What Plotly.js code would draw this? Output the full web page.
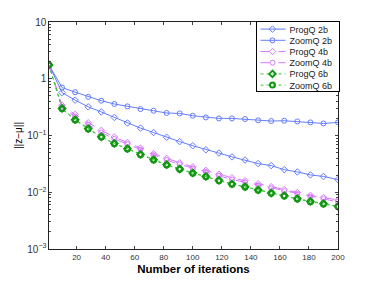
<!DOCTYPE html>
<html>
<head>
<meta charset="utf-8">
<script src="https://cdn.plot.ly/plotly-3.0.1.min.js"></script>
<style>html,body{margin:0;padding:0;background:#fff;}#chart{width:374px;height:281px;}</style>
</head>
<body>
<div id="chart"></div>
<script>
const iterations = [1, 10, 19, 28, 37, 46, 55, 64, 73, 82, 91, 100, 109, 118, 127, 136, 145, 154, 163, 172, 181, 190, 200];
const progQ2b = [1.75, 0.57, 0.42, 0.32, 0.26, 0.208, 0.166, 0.135, 0.113, 0.093, 0.078, 0.066, 0.056, 0.049, 0.042, 0.037, 0.032, 0.0295, 0.0250, 0.0228, 0.0202, 0.0190, 0.0167];
const zoomQ2b = [1.75, 0.70, 0.58, 0.48, 0.41, 0.359, 0.326, 0.292, 0.273, 0.249, 0.245, 0.223, 0.208, 0.200, 0.200, 0.195, 0.185, 0.180, 0.182, 0.177, 0.170, 0.163, 0.170];
const progQ4b = [1.75, 0.34, 0.235, 0.168, 0.123, 0.094, 0.075, 0.060, 0.048, 0.0395, 0.033, 0.028, 0.0243, 0.0208, 0.0180, 0.0160, 0.0141, 0.0125, 0.0111, 0.0099, 0.0088, 0.0081, 0.0073];
const zoomQ4b = [1.75, 0.32, 0.215, 0.155, 0.113, 0.087, 0.070, 0.056, 0.045, 0.037, 0.031, 0.0263, 0.0228, 0.0195, 0.0168, 0.0150, 0.0132, 0.0117, 0.0104, 0.0093, 0.0083, 0.0076, 0.0068];
const progQ6b = [1.75, 0.30, 0.19, 0.132, 0.095, 0.0726, 0.0586, 0.0465, 0.0375, 0.0306, 0.0257, 0.0219, 0.0190, 0.0162, 0.0140, 0.0125, 0.0110, 0.0097, 0.0087, 0.0077, 0.0069, 0.0063, 0.00565];
const zoomQ6b = [1.75, 0.295, 0.187, 0.130, 0.094, 0.0718, 0.0580, 0.0460, 0.0371, 0.0303, 0.0254, 0.0217, 0.0188, 0.0160, 0.0139, 0.0124, 0.0109, 0.0096, 0.0086, 0.0076, 0.0068, 0.0062, 0.0056];
const xTicks = [20, 40, 60, 80, 100, 120, 140, 160, 180, 200];
const seriesNames = ['ProgQ 2b', 'ZoomQ 2b', 'ProgQ 4b', 'ZoomQ 4b', 'ProgQ 6b', 'ZoomQ 6b'];

const blue = 'rgb(100,125,255)';
const violet = 'rgb(215,120,255)';
const greenLine = 'rgb(60,200,60)';
const greenMark = 'rgb(20,150,20)';

function tr(y, name, color, dash, symbol, mcolor, mw) {
  return {
    x: iterations, y: y, name: name, type: 'scatter', mode: 'lines+markers',
    line: {color: color, width: 1, dash: dash},
    marker: {symbol: symbol, size: 5, color: mcolor, line: {color: mcolor, width: mw}}
  };
}

const data = [
  tr(progQ2b, seriesNames[0], blue, 'solid', 'diamond-open', blue, 1),
  tr(zoomQ2b, seriesNames[1], blue, 'solid', 'circle-open', blue, 1),
  tr(progQ4b, seriesNames[2], violet, 'dash', 'diamond-open', violet, 1),
  tr(zoomQ4b, seriesNames[3], violet, 'dash', 'circle-open', violet, 1),
  tr(progQ6b, seriesNames[4], greenLine, 'dot', 'diamond-open', greenMark, 2),
  tr(zoomQ6b, seriesNames[5], greenLine, 'dot', 'circle-open', greenMark, 2)
];

const layout = {
  width: 374, height: 281,
  margin: {l: 49, r: 36, t: 22, b: 32},
  paper_bgcolor: '#fff', plot_bgcolor: '#fff',
  font: {family: 'Liberation Sans, Arial, sans-serif', size: 8, color: '#333'},
  showlegend: true,
  legend: {
    x: 1, xanchor: 'right', y: 1, yanchor: 'top',
    bgcolor: '#fff', bordercolor: '#000', borderwidth: 1,
    font: {size: 9, color: '#222'}, tracegroupgap: 0
  },
  xaxis: {
    range: [1, 200], tickvals: xTicks, ticks: 'inside', ticklen: 3,
    showgrid: false, zeroline: false, showline: true, linecolor: '#222', linewidth: 1,
    mirror: 'ticks', tickfont: {size: 8, color: '#333'},
    title: {text: '<b>Number of iterations</b>', font: {size: 11.5, color: '#000'}, standoff: 4}
  },
  yaxis: {
    type: 'log', range: [-3, 1], dtick: 1, exponentformat: 'power',
    ticks: 'inside', ticklen: 3, showgrid: false, zeroline: false,
    showline: true, linecolor: '#222', linewidth: 1, mirror: 'ticks',
    tickfont: {size: 8, color: '#333'},
    minor: {ticks: 'inside', ticklen: 2, dtick: 'D1', showgrid: false},
    title: {text: '||z\u2212\u03bc||', font: {size: 10, color: '#000'}, standoff: 2}
  }
};

Plotly.newPlot('chart', data, layout, {displayModeBar: false, staticPlot: true}).then(function (gd) {
  const lg = gd.querySelector('.legend');
  if (!lg) return;
  const bg = lg.querySelector('rect.bg');
  const items = lg.querySelectorAll('g.traces');
  const step = 11.2, shiftX = 6;
  const newH = 70, right = 338.5, top = 21;
  items.forEach(function (it, i) {
    it.setAttribute('transform', 'translate(0,' + (employY(i)) + ')');
    const t = it.querySelector('text.legendtext');
    if (t) t.setAttribute('x', parseFloat(t.getAttribute('x')) - shiftX);
    it.querySelectorAll('.legendlines path, .legendfill path').forEach(function (p) {
      p.setAttribute('d', 'M5,0h25');
    });
    it.querySelectorAll('.legendpoints path').forEach(function (p) {
      const tf = p.getAttribute('transform') || '';
      p.setAttribute('transform', tf.replace(/translate\(([-\d.]+)/, function (m, a) { return 'translate(' + (parseFloat(a) - 3); }));
    });
  });
  function employY(i) { return 1 + step / 2 + 1.5 + i * step; }
  const w = parseFloat(bg.getAttribute('width')) - shiftX;
  bg.setAttribute('width', w);
  bg.setAttribute('height', newH);
  const clip = document.querySelector('[id^="legend"] rect');
  const cp = gd.querySelectorAll('clipPath rect');
  cp.forEach(function (r) { if (r.parentNode.id && r.parentNode.id.indexOf('legend') >= 0) { r.setAttribute('width', w); r.setAttribute('height', newH); } });
  lg.setAttribute('transform', 'translate(' + (right - w) + ',' + top + ')');
});
</script>
</body>
</html>
